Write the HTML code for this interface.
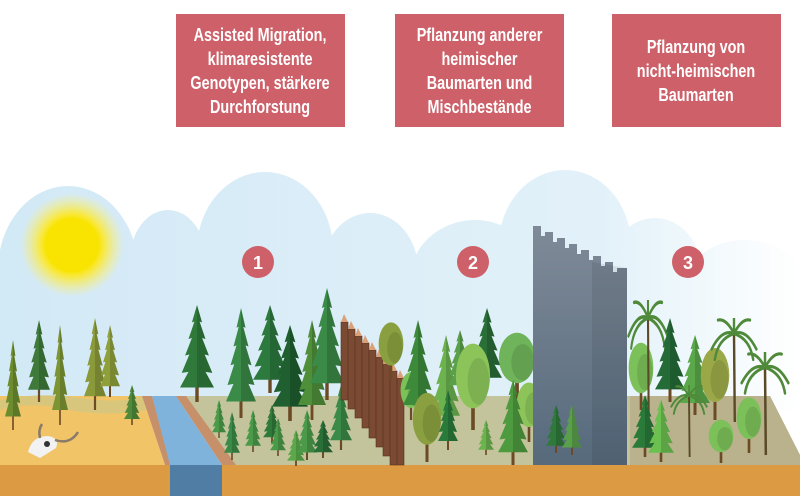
<!DOCTYPE html>
<html><head><meta charset="utf-8"><style>
html,body{margin:0;padding:0;background:#fff;}
#w{position:relative;width:800px;height:496px;overflow:hidden;background:#fff;}
svg{position:absolute;left:0;top:0;}
.box{position:absolute;top:14px;width:169px;height:113px;background:#cd6068;color:#fff;display:flex;align-items:center;justify-content:center;text-align:center;font-family:"Liberation Sans Narrow","Liberation Sans",sans-serif;font-weight:bold;font-size:18px;line-height:24px;}
.box div{transform:scaleX(0.8);white-space:nowrap;}
</style></head><body><div id="w">
<svg width="800" height="496" viewBox="0 0 800 496">
<defs>
<linearGradient id="sky" x1="0" y1="0" x2="800" y2="0" gradientUnits="userSpaceOnUse">
<stop offset="0" stop-color="#d2e9f6"/><stop offset="0.75" stop-color="#e2f1f9"/><stop offset="1" stop-color="#ffffff"/></linearGradient>
<radialGradient id="sun"><stop offset="0.5" stop-color="#f8e400"/><stop offset="0.6" stop-color="#f9e83a"/><stop offset="1" stop-color="#fbef80" stop-opacity="0"/></radialGradient>
<linearGradient id="wallg" x1="0" y1="0" x2="0" y2="1"><stop offset="0" stop-color="#7f8a98"/><stop offset="1" stop-color="#566a7c"/></linearGradient>
<symbol id="spr" viewBox="0 0 40 100" preserveAspectRatio="none">
<rect x="18" y="78" width="4" height="22" fill="#6b4a25"/>
<polygon fill="currentColor" points="20,0 26,18 23,17 30,35 26,34 34,52 29,51 38,70 30,69 40,85 0,85 10,69 2,70 11,51 6,52 14,34 10,35 17,17 14,18"/>
<polygon fill="#000" opacity="0.15" points="20,0 26,18 23,17 30,35 26,34 34,52 29,51 38,70 30,69 40,85 20,85"/>
</symbol>
<symbol id="dec" viewBox="0 0 40 100" preserveAspectRatio="none">
<rect x="18" y="60" width="4" height="40" fill="#6b4a25"/>
<ellipse cx="20" cy="40" rx="19" ry="36" fill="currentColor"/>
<ellipse cx="26" cy="46" rx="12" ry="26" fill="#000" opacity="0.1"/>
</symbol>
<symbol id="palm" viewBox="0 0 60 100" preserveAspectRatio="none">
<path d="M30 15 L31 100" stroke="#5a4a28" stroke-width="3" fill="none"/>
<g stroke="#4f8a3a" stroke-width="3" fill="none" stroke-linecap="round">
<path d="M30 15 Q15 10 2 30"/><path d="M30 15 Q45 10 58 30"/><path d="M30 15 Q20 0 10 2"/><path d="M30 15 Q40 0 50 2"/><path d="M30 15 Q30 5 30 0"/><path d="M30 15 Q10 20 6 40"/><path d="M30 15 Q50 20 54 40"/></g>
</symbol>
</defs>
<g fill="url(#sky)">
<ellipse cx="68" cy="270" rx="70" ry="84"/>
<ellipse cx="168" cy="260" rx="38" ry="50"/>
<ellipse cx="265" cy="250" rx="68" ry="78"/>
<ellipse cx="370" cy="270" rx="48" ry="57"/>
<ellipse cx="475" cy="280" rx="65" ry="60"/>
<ellipse cx="565" cy="245" rx="66" ry="75"/>
<ellipse cx="655" cy="270" rx="46" ry="52"/>
<ellipse cx="745" cy="290" rx="62" ry="50"/>
<rect x="0" y="260" width="800" height="150"/>
</g>
<circle cx="72" cy="245" r="52" fill="url(#sun)"/>
<circle cx="72" cy="245" r="27" fill="#f8e400"/>
<g fill="#cd6068"><circle cx="258" cy="262" r="16"/><circle cx="473" cy="262" r="16"/><circle cx="688" cy="262" r="16"/></g>
<g fill="#fff" font-family="Liberation Sans Narrow,Liberation Sans,sans-serif" font-weight="bold" font-size="18" text-anchor="middle">
<text x="258" y="269">1</text><text x="473" y="269">2</text><text x="688" y="269">3</text></g>
<polygon points="0,396 142,396 165,465 0,465" fill="#f1c468"/>
<path d="M0 400 Q40 392 80 398 Q120 404 142 396 L146 410 Q100 418 60 408 Q30 402 0 410 Z" fill="#d8c67c"/>
<polygon points="185,396 770,396 800,455 800,465 235,465" fill="#c3c49c"/>
<polygon points="630,396 770,396 800,455 800,465 630,465" fill="#b9b28c"/>
<polygon points="142,396 152,396 172,465 165,465" fill="#c6906a"/>
<polygon points="152,396 176,396 222,465 170,465" fill="#80b3dc"/>
<polygon points="176,396 186,396 236,465 222,465" fill="#c6906a"/>
<rect x="0" y="465" width="800" height="31" fill="#dc9a42"/>
<rect x="170" y="465" width="52" height="31" fill="#4f7da3"/>
<g><path d="M28 452 Q32 436 48 436 Q60 438 56 448 L40 458 Z" fill="#f2f2f2"/><circle cx="47" cy="444" r="3" fill="#333"/><path d="M55 440 Q70 445 78 432" stroke="#8a7a6a" stroke-width="2.5" fill="none"/><path d="M40 438 Q38 430 42 424" stroke="#8a7a6a" stroke-width="2.5" fill="none"/></g>
<use href="#spr" x="5" y="340" width="16" height="90" style="color:#6d8c2e"/>
<use href="#spr" x="28" y="320" width="22" height="82" style="color:#3f7a3a"/>
<use href="#spr" x="52" y="325" width="16" height="100" style="color:#7c9433"/>
<use href="#spr" x="84" y="318" width="22" height="92" style="color:#8a9a3a"/>
<use href="#spr" x="100" y="325" width="20" height="72" style="color:#8fa03a"/>
<use href="#spr" x="124" y="385" width="16" height="40" style="color:#4f8a3a"/>
<use href="#spr" x="180" y="305" width="34" height="97" style="color:#2f7a3a"/>
<use href="#spr" x="226" y="308" width="30" height="110" style="color:#3a8a48"/>
<use href="#spr" x="253" y="305" width="34" height="88" style="color:#2c7a3e"/>
<use href="#spr" x="272" y="325" width="36" height="96" style="color:#1f5f30"/>
<use href="#spr" x="298" y="320" width="28" height="100" style="color:#4f8f3a"/>
<use href="#spr" x="310" y="288" width="34" height="112" style="color:#3a8a48"/>
<use href="#spr" x="212" y="400" width="14" height="38" style="color:#4a9a4a"/>
<use href="#spr" x="224" y="412" width="16" height="48" style="color:#3a8a48"/>
<use href="#spr" x="245" y="410" width="16" height="42" style="color:#4a9a4a"/>
<use href="#spr" x="263" y="405" width="18" height="38" style="color:#2f7a3a"/>
<use href="#spr" x="270" y="418" width="16" height="38" style="color:#4a9a4a"/>
<use href="#spr" x="287" y="430" width="18" height="36" style="color:#5aa84a"/>
<use href="#spr" x="297" y="410" width="20" height="50" style="color:#4a9a4a"/>
<use href="#spr" x="313" y="420" width="20" height="38" style="color:#2a6e38"/>
<use href="#spr" x="330" y="385" width="22" height="65" style="color:#3a8a48"/>
<g>
<g fill="#7a4a33" stroke="#5a3322" stroke-width="0.6">
<rect x="341" y="322" width="7" height="78"/><rect x="348" y="329" width="7" height="80"/><rect x="355" y="336" width="7" height="82"/><rect x="362" y="343" width="7" height="85"/><rect x="369" y="350" width="7" height="88"/><rect x="376" y="357" width="7" height="90"/><rect x="383" y="364" width="7" height="92"/><rect x="390" y="371" width="7" height="94"/><rect x="397" y="378" width="7" height="87"/>
</g>
<g fill="#d9a07a">
<polygon points="341,322 348,322 344,314"/><polygon points="348,329 355,329 351,321"/><polygon points="355,336 362,336 358,328"/><polygon points="362,343 369,343 365,335"/><polygon points="369,350 376,350 372,342"/><polygon points="376,357 383,357 379,349"/><polygon points="383,364 390,364 386,356"/><polygon points="390,371 397,371 393,363"/><polygon points="397,378 404,378 400,370"/>
</g></g>
<use href="#dec" x="378" y="320" width="26" height="60" style="color:#8aa040"/>
<use href="#dec" x="400" y="370" width="22" height="50" style="color:#7cc05a"/>
<use href="#spr" x="403" y="320" width="30" height="100" style="color:#3d8b3a"/>
<use href="#spr" x="432" y="335" width="28" height="95" style="color:#6cb24f"/>
<use href="#spr" x="448" y="330" width="24" height="65" style="color:#5aa04a"/>
<use href="#spr" x="472" y="308" width="30" height="82" style="color:#2a6e38"/>
<use href="#dec" x="455" y="340" width="36" height="90" style="color:#8cc45a"/>
<use href="#dec" x="498" y="330" width="38" height="70" style="color:#6fb35a"/>
<use href="#dec" x="412" y="390" width="30" height="72" style="color:#8aa040"/>
<use href="#spr" x="438" y="390" width="20" height="60" style="color:#2a7a3a"/>
<use href="#dec" x="516" y="380" width="26" height="62" style="color:#8cc45a"/>
<use href="#spr" x="498" y="380" width="30" height="85" style="color:#4e9a3f"/>
<use href="#spr" x="478" y="420" width="16" height="35" style="color:#6cb24f"/>
<polygon points="533,226 541,226 541,236 545,236 545,232 553,232 553,242 557,242 557,238 565,238 565,248 569,248 569,244 577,244 577,254 581,254 581,250 589,250 589,260 593,260 593,256 601,256 601,266 605,266 605,262 613,262 613,272 617,272 617,268 627,268 627,465 533,465" fill="url(#wallg)"/>
<polygon points="592,262 627,268 627,465 592,465" fill="#000" opacity="0.08"/>
<use href="#spr" x="546" y="405" width="20" height="48" style="color:#2f7a3a"/>
<use href="#spr" x="562" y="405" width="20" height="50" style="color:#5aa04a"/>
<use href="#dec" x="628" y="340" width="26" height="70" style="color:#7cc05a"/>
<use href="#palm" x="627" y="300" width="42" height="120"/>
<use href="#spr" x="655" y="318" width="30" height="84" style="color:#246b38"/>
<use href="#spr" x="680" y="335" width="30" height="80" style="color:#5aa84a"/>
<use href="#dec" x="700" y="345" width="30" height="75" style="color:#9aa848"/>
<use href="#palm" x="710" y="318" width="48" height="104"/>
<use href="#palm" x="740" y="352" width="50" height="103"/>
<use href="#spr" x="632" y="395" width="26" height="62" style="color:#2a7a3a"/>
<use href="#spr" x="648" y="400" width="26" height="62" style="color:#6cc050"/>
<use href="#palm" x="670" y="385" width="38" height="72"/>
<use href="#dec" x="708" y="418" width="26" height="45" style="color:#7cc05a"/>
<use href="#dec" x="736" y="395" width="26" height="58" style="color:#7cc05a"/>
</svg>
<div class="box" style="left:176px"><div>Assisted Migration,<br>klimaresistente<br>Genotypen, stärkere<br>Durchforstung</div></div>
<div class="box" style="left:395px"><div>Pflanzung anderer<br>heimischer<br>Baumarten und<br>Mischbestände</div></div>
<div class="box" style="left:612px"><div>Pflanzung von<br>nicht-heimischen<br>Baumarten</div></div>
</div></body></html>
